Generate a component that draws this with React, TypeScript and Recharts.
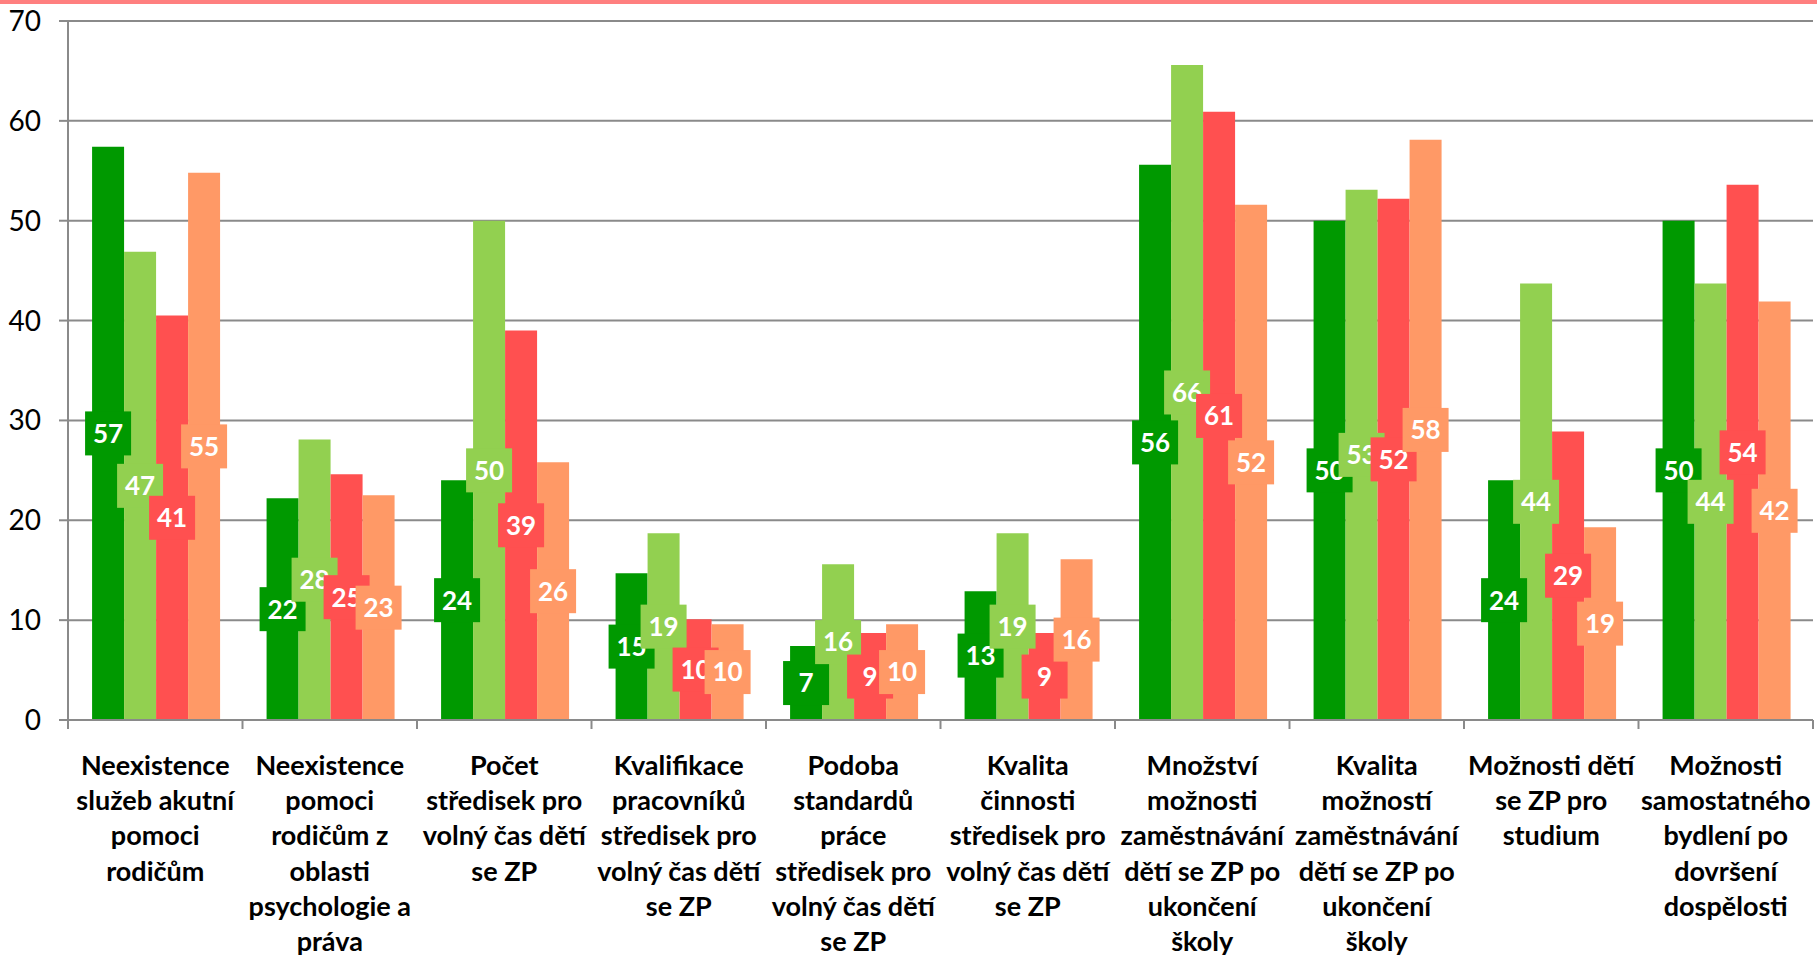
import { Bar, BarChart, CartesianGrid, LabelList, XAxis, YAxis } from "recharts";

const categories = [
  "Neexistence\nslužeb akutní\npomoci\nrodičům",
  "Neexistence\npomoci\nrodičům z\noblasti\npsychologie a\npráva",
  "Počet\nstředisek pro\nvolný čas dětí\nse ZP",
  "Kvalifikace\npracovníků\nstředisek pro\nvolný čas dětí\nse ZP",
  "Podoba\nstandardů\npráce\nstředisek pro\nvolný čas dětí\nse ZP",
  "Kvalita\nčinnosti\nstředisek pro\nvolný čas dětí\nse ZP",
  "Množství\nmožnosti\nzaměstnávání\ndětí se ZP po\nukončení\nškoly",
  "Kvalita\nmožností\nzaměstnávání\ndětí se ZP po\nukončení\nškoly",
  "Možnosti dětí\nse ZP pro\nstudium",
  "Možnosti\nsamostatného\nbydlení po\ndovršení\ndospělosti",
];

const s1 = [57.4, 22.2, 24.0, 14.7, 7.4, 12.9, 55.6, 50.0, 24.0, 50.0];
const s2 = [46.9, 28.1, 50.0, 18.7, 15.6, 18.7, 65.6, 53.1, 43.7, 43.7];
const s3 = [40.5, 24.6, 39.0, 10.1, 8.7, 8.7, 60.9, 52.2, 28.9, 53.6];
const s4 = [54.8, 22.5, 25.8, 9.6, 9.6, 16.1, 51.6, 58.1, 19.3, 41.9];

const yTicks = [0, 10, 20, 30, 40, 50, 60, 70];

const colors = ["#009900", "#92D050", "#FF5050", "#FF9966"];
const keys = ["s1", "s2", "s3", "s4"];

const data = categories.map((name, i) => ({
  name,
  s1: s1[i],
  s2: s2[i],
  s3: s3[i],
  s4: s4[i],
}));

const FONT = "Lato, 'Open Sans', sans-serif";
const AXIS = "#8a8a8a";

function makeLabel(color: string) {
  return (props: any) => {
    const { x, y, width, height, value } = props;
    const cx = x + width / 2;
    const cy = y + height / 2;
    return (
      <g>
        <rect x={cx - 23} y={cy - 22} width={46} height={44} fill={color} />
        <text
          x={cx}
          y={cy}
          dy="0.36em"
          textAnchor="middle"
          fill="#fff"
          fontFamily={FONT}
          fontWeight={700}
          fontSize={26}
        >
          {Math.round(value)}
        </text>
      </g>
    );
  };
}

function CategoryTick(props: any) {
  const { x, y, payload, index } = props;
  const half = payload.offset || 87;
  const lines = String(payload.value).split("\n");
  return (
    <g>
      <line x1={x - half} x2={x - half} y1={y} y2={y + 9} stroke={AXIS} strokeWidth={2} />
      {index === categories.length - 1 && (
        <line x1={x + half} x2={x + half} y1={y} y2={y + 9} stroke={AXIS} strokeWidth={2} />
      )}
      <text
        x={x}
        y={y + 55}
        textAnchor="middle"
        fill="#000"
        fontFamily={FONT}
        fontWeight={700}
        fontSize={27}
      >
        {lines.map((l, i) => (
          <tspan key={i} x={x} dy={i === 0 ? 0 : 35.2}>
            {l}
          </tspan>
        ))}
      </text>
    </g>
  );
}

export default function App() {
  return (
    <div style={{ position: "absolute", left: 0, top: 0, width: 1817, height: 958, background: "#fff" }}>
      <div style={{ position: "absolute", left: 0, top: 0, width: 1817, height: 4, background: "#FF7F7F" }} />
      <BarChart
        width={1817}
        height={958}
        data={data}
        margin={{ top: 21, right: 4, bottom: 0, left: 0 }}
        barCategoryGap="13.8%"
        barGap={0}
      >
        <CartesianGrid vertical={false} stroke={AXIS} strokeWidth={2} />
        <XAxis
          dataKey="name"
          height={238}
          interval={0}
          tickLine={false}
          tickSize={0}
          tickMargin={0}
          axisLine={{ stroke: AXIS, strokeWidth: 2 }}
          tick={<CategoryTick />}
        />
        <YAxis
          width={68}
          domain={[0, 70]}
          ticks={yTicks}
          interval={0}
          tickSize={9}
          tickMargin={18}
          axisLine={{ stroke: AXIS, strokeWidth: 2 }}
          tickLine={{ stroke: AXIS, strokeWidth: 2 }}
          tick={{ fill: "#000", fontFamily: FONT, fontSize: 28 }}
        />
        {keys.map((k, i) => (
          <Bar key={k} dataKey={k} fill={colors[i]} isAnimationActive={false}>
            <LabelList dataKey={k} content={makeLabel(colors[i])} />
          </Bar>
        ))}
      </BarChart>
    </div>
  );
}
